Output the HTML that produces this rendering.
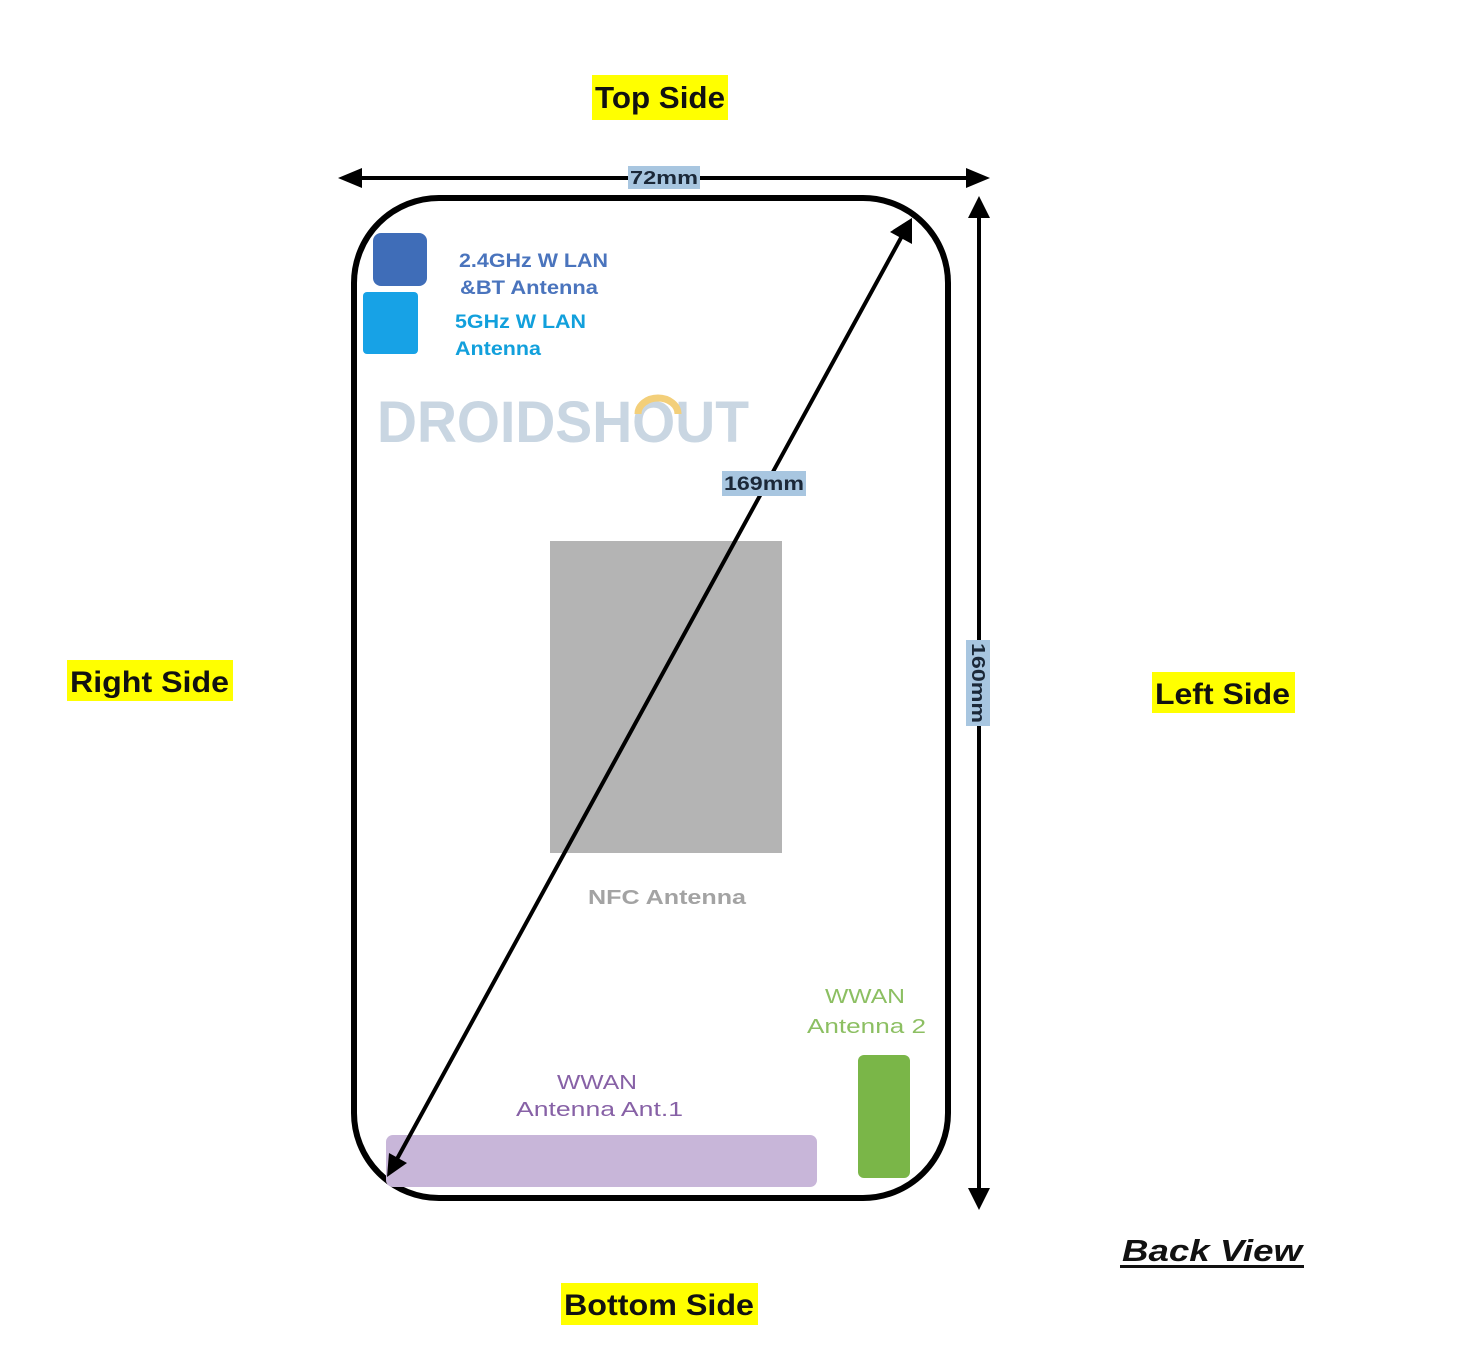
<!DOCTYPE html>
<html>
<head>
<meta charset="utf-8">
<style>
  html,body{margin:0;padding:0;background:#fff;}
  svg{display:block;}
  text{font-family:"Liberation Sans", Arial, sans-serif;}
</style>
</head>
<body>
<svg width="1472" height="1345" viewBox="0 0 1472 1345" xmlns="http://www.w3.org/2000/svg">
  <rect x="0" y="0" width="1472" height="1345" fill="#ffffff"/>

  <!-- Yellow side labels -->
  <rect x="592" y="75" width="136" height="45" fill="#ffff00"/>
  <text x="595" y="108" font-size="31" font-weight="bold" fill="#111" textLength="130" lengthAdjust="spacingAndGlyphs">Top Side</text>

  <rect x="67" y="660" width="166" height="41" fill="#ffff00"/>
  <text x="70" y="692" font-size="30" font-weight="bold" fill="#111" textLength="159" lengthAdjust="spacingAndGlyphs">Right  Side</text>

  <rect x="1152" y="672" width="143" height="41" fill="#ffff00"/>
  <text x="1155" y="704" font-size="30" font-weight="bold" fill="#111" textLength="135" lengthAdjust="spacingAndGlyphs">Left Side</text>

  <rect x="561" y="1283" width="197" height="42" fill="#ffff00"/>
  <text x="564" y="1315" font-size="30" font-weight="bold" fill="#111" textLength="190" lengthAdjust="spacingAndGlyphs">Bottom  Side</text>

  <!-- Back View -->
  <text x="1122" y="1261" font-size="31" font-weight="bold" font-style="italic" fill="#111" textLength="180" lengthAdjust="spacingAndGlyphs">Back  View</text>
  <rect x="1120" y="1265" width="184" height="3" fill="#111"/>

  <!-- Phone outline -->
  <rect x="354" y="198" width="594" height="1000" rx="85" ry="85" fill="none" stroke="#000" stroke-width="6"/>

  <!-- Watermark -->
  <text x="377" y="442" font-size="58" font-weight="bold" fill="#c9d6e2" textLength="372" lengthAdjust="spacingAndGlyphs">DROIDSHOUT</text>
  <path d="M638 414 A20 16 0 0 1 678 414" fill="none" stroke="#f3cf7a" stroke-width="7"/>

  <!-- WLAN antennas -->
  <rect x="373" y="233" width="54" height="53" rx="8" ry="8" fill="#3f6db8"/>
  <rect x="363" y="292" width="55" height="62" rx="4" ry="4" fill="#17a2e6"/>
  <text x="459" y="267" font-size="19" font-weight="bold" fill="#4a74bd" textLength="149" lengthAdjust="spacingAndGlyphs">2.4GHz W LAN</text>
  <text x="460" y="294" font-size="19" font-weight="bold" fill="#4a74bd" textLength="138" lengthAdjust="spacingAndGlyphs">&amp;BT Antenna</text>
  <text x="455" y="328" font-size="19" font-weight="bold" fill="#12a0dc" textLength="131" lengthAdjust="spacingAndGlyphs">5GHz W LAN</text>
  <text x="455" y="355" font-size="19" font-weight="bold" fill="#12a0dc" textLength="86" lengthAdjust="spacingAndGlyphs">Antenna</text>

  <!-- NFC -->
  <rect x="550" y="541" width="232" height="312" fill="#b4b4b4"/>
  <text x="588" y="904" font-size="20" font-weight="bold" fill="#a3a3a3" textLength="158" lengthAdjust="spacingAndGlyphs">NFC Antenna</text>

  <!-- WWAN 2 -->
  <text x="825" y="1003" font-size="20" fill="#8cbf62" textLength="80" lengthAdjust="spacingAndGlyphs">WWAN</text>
  <text x="807" y="1033" font-size="20" fill="#8cbf62" textLength="119" lengthAdjust="spacingAndGlyphs">Antenna 2</text>
  <rect x="858" y="1055" width="52" height="123" rx="6" ry="6" fill="#7ab648"/>

  <!-- WWAN 1 -->
  <text x="557" y="1089" font-size="20" fill="#8761a6" textLength="80" lengthAdjust="spacingAndGlyphs">WWAN</text>
  <text x="516" y="1116" font-size="20" fill="#8761a6" textLength="167" lengthAdjust="spacingAndGlyphs">Antenna Ant.1</text>
  <rect x="386" y="1135" width="431" height="52" rx="7" ry="7" fill="#c8b6d9"/>

  <!-- Horizontal dimension arrow (72mm) -->
  <line x1="356" y1="178" x2="972" y2="178" stroke="#000" stroke-width="4"/>
  <polygon points="338,178 362,168 362,188" fill="#000"/>
  <polygon points="990,178 966,168 966,188" fill="#000"/>
  <rect x="628" y="166" width="72" height="23" fill="#a8c6e0"/>
  <text x="630" y="184" font-size="18" font-weight="bold" fill="#1b2838" textLength="68" lengthAdjust="spacingAndGlyphs">72mm</text>

  <!-- Vertical dimension arrow (160mm) -->
  <line x1="979" y1="214" x2="979" y2="1192" stroke="#000" stroke-width="4"/>
  <polygon points="979,196 968,218 990,218" fill="#000"/>
  <polygon points="979,1210 968,1188 990,1188" fill="#000"/>
  <rect x="966" y="640" width="24" height="86" fill="#a8c6e0"/>
  <text x="0" y="0" font-size="18" font-weight="bold" fill="#1b2838" textLength="80" lengthAdjust="spacingAndGlyphs" transform="translate(972,643) rotate(90)">160mm</text>

  <!-- Diagonal dimension arrow (169mm) -->
  <line x1="902" y1="236" x2="397" y2="1159" stroke="#000" stroke-width="4"/>
  <polygon points="912,218 893,230 910,240" fill="#000"/>
  <polygon points="912,218 890,232 912,244" fill="#000"/>
  <polygon points="387,1177 389,1153 407,1163" fill="#000"/>
  <rect x="722" y="471" width="84" height="25" fill="#a8c6e0"/>
  <text x="724" y="490" font-size="19" font-weight="bold" fill="#1b2838" textLength="80" lengthAdjust="spacingAndGlyphs">169mm</text>
</svg>
</body>
</html>
